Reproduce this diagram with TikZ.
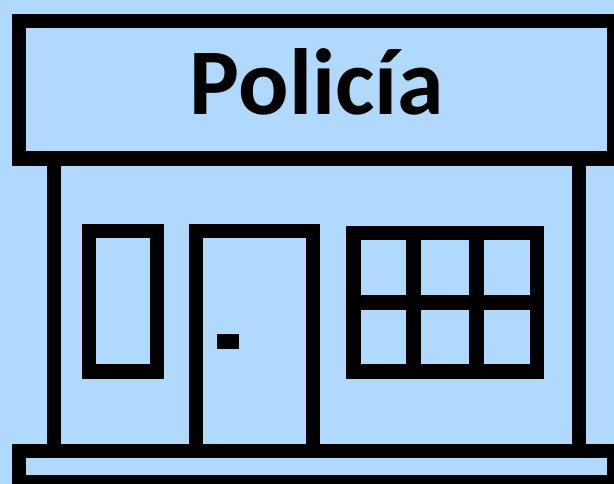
\documentclass[tikz,border=0pt]{standalone}
\usepackage{fontspec}
\setmainfont{Carlito}
\definecolor{sky}{HTML}{B1D8FD}
\tikzset{
  wall/.style={draw=black,line width=14.4pt,line join=miter,line cap=butt},
  title/.style={font=\fontsize{94}{94}\selectfont\bfseries,text=black,inner sep=0pt,anchor=base}
}
\begin{document}
\begin{tikzpicture}[x=1pt,y=-1pt]
\useasboundingbox (0,0) rectangle (614,484);
\clip (0,0) rectangle (614,484);
\fill[sky] (0,0) rectangle (614,484);
% walls
\draw[wall] (54,158) -- (54,451);
\draw[wall] (579,158) -- (579,451);
% sign
\draw[wall] (19,21) rectangle (614.2,158.5);
\node[title] (sign) at (317,115) {Policía};
% left window
\draw[wall] (88.7,231) rectangle (157.2,371.3);
% door
\draw[wall] (195.7,231) -- (195.7,451);
\draw[wall] (313,231) -- (313,451);
\draw[wall] (188.5,231) -- (320.2,231);
\fill[black] (217,334) rectangle (239,349);
% right window
\draw[wall] (353.5,233) rectangle (536.8,371.3);
\draw[wall] (413.5,233) -- (413.5,371.3);
\draw[wall] (476.5,233) -- (476.5,371.3);
\draw[wall] (353.5,302.5) -- (536.8,302.5);
% base
\draw[wall] (19,451) rectangle (614.2,482.2);
\end{tikzpicture}
\end{document}
